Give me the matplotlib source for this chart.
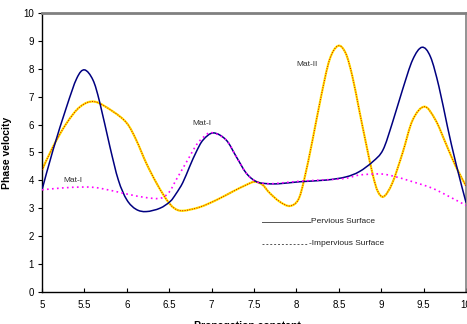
import matplotlib
matplotlib.use("Agg")
import matplotlib.pyplot as plt
from matplotlib.path import Path
from matplotlib.patches import PathPatch
import numpy as np

plt.rcParams['font.family'] = ['Liberation Sans', 'DejaVu Sans']

# pervious surface (navy, solid)
x_blue = [5.0, 5.13, 5.29, 5.41, 5.5, 5.6, 5.68, 5.8, 5.9, 6.0, 6.11, 6.23,
          6.39, 6.51, 6.58, 6.66, 6.74, 6.82, 6.9, 7.02, 7.17, 7.29, 7.41, 7.53,
          7.66, 7.8, 8.04, 8.35, 8.58, 8.74, 8.9, 9.02, 9.13, 9.25, 9.37, 9.48,
          9.58, 9.68, 9.78, 9.88, 10.0]
y_blue = [3.66, 5.09, 6.64, 7.66, 7.96, 7.6, 6.8, 5.21, 4.01, 3.3, 2.96, 2.88,
          3.0, 3.24, 3.52, 3.92, 4.49, 5.03, 5.45, 5.7, 5.45, 4.85, 4.25, 3.95,
          3.88, 3.88, 3.95, 4.01, 4.12, 4.31, 4.67, 5.09, 6.05, 7.24, 8.32, 8.77,
          8.43, 7.36, 5.93, 4.61, 3.2]

# impervious surface (magenta, dotted)
x_mag = [5.0, 5.25, 5.5, 5.68, 6.0, 6.23, 6.4, 6.5, 6.58, 6.66, 6.74, 6.82,
         6.9, 7.0, 7.17, 7.29, 7.41, 7.53, 7.66, 7.8, 8.04, 8.35, 8.58, 8.74,
         8.98, 9.13, 9.37, 9.6, 9.8, 10.0]
y_mag = [3.66, 3.73, 3.76, 3.72, 3.51, 3.38, 3.36, 3.58, 4.01, 4.43, 4.85, 5.27,
         5.54, 5.71, 5.45, 4.85, 4.25, 3.95, 3.88, 3.9, 3.97, 4.02, 4.07, 4.19,
         4.23, 4.16, 3.95, 3.72, 3.42, 3.1]

# Mat-II (yellow with red dots)
x_yel = [5.0, 5.13, 5.29, 5.45, 5.62, 5.84, 6.0, 6.11, 6.23, 6.35, 6.47, 6.56,
         6.66, 6.86, 7.06, 7.25, 7.41, 7.51, 7.6, 7.68, 7.8, 7.92, 8.02, 8.09,
         8.19, 8.29, 8.39, 8.49, 8.58, 8.66, 8.74, 8.82, 8.9, 8.96, 9.03, 9.13,
         9.25, 9.37, 9.51, 9.64, 9.76, 9.88, 10.0]
y_yel = [4.37, 5.21, 6.05, 6.64, 6.82, 6.46, 6.05, 5.45, 4.61, 3.9, 3.3, 3.0,
         2.91, 3.04, 3.3, 3.6, 3.84, 3.95, 3.84, 3.56, 3.24, 3.08, 3.3, 4.01,
         5.45, 7.0, 8.32, 8.82, 8.56, 7.72, 6.52, 5.33, 4.2, 3.6, 3.42, 3.9,
         4.97, 6.16, 6.64, 6.16, 5.33, 4.49, 3.8]

labels = [("Mat-I", 5.36, 4.0), ("Mat-I", 6.89, 6.02), ("Mat-II", 8.12, 8.17)]
xticks = [5, 5.5, 6, 6.5, 7, 7.5, 8, 8.5, 9, 9.5, 10]
xticklabels = ["5", "5.5", "6", "6.5", "7", "7.5", "8", "8.5", "9", "9.5", "10"]


def smooth_path(xs, ys):
    # Excel-style smoothed line: bezier segments through the points
    p = np.column_stack([xs, ys])
    n = len(p)
    verts = [p[0]]
    codes = [Path.MOVETO]
    for i in range(n - 1):
        p0 = p[i - 1] if i > 0 else p[i]
        p1 = p[i]
        p2 = p[i + 1]
        p3 = p[i + 2] if i + 2 < n else p[i + 1]
        verts += [p1 + (p2 - p0) / 6, p2 - (p3 - p1) / 6, p2]
        codes += [Path.CURVE4] * 3
    return Path(verts, codes)


def draw(ax, xs, ys, **kw):
    ax.add_patch(PathPatch(smooth_path(xs, ys), fill=False, capstyle='butt', **kw))


fig = plt.figure(figsize=(4.67, 3.24), dpi=100)
ax = fig.add_axes([0.09, 0.099, 0.908, 0.861])

draw(ax, x_yel, y_yel, edgecolor='#FFE800', lw=1.6, zorder=2)
draw(ax, x_yel, y_yel, edgecolor='#E00000', lw=0.7, ls=(0, (1, 1.5)), zorder=3)
draw(ax, x_blue, y_blue, edgecolor='#000080', lw=1.1, zorder=4)
draw(ax, x_mag, y_mag, edgecolor='#FF00FF', lw=1.2, ls=(0, (1, 2)), zorder=5)

for txt, lx, ly in labels:
    ax.text(lx, ly, txt, fontsize=6, color='#333333', ha='center', va='center')

# hand-made legend
ax.plot([0.519, 0.632], [0.251, 0.251], transform=ax.transAxes, color='#555555', lw=0.7)
ax.text(0.634, 0.251, "Pervious Surface", transform=ax.transAxes, fontsize=6,
        color='#222222', va='center')
ax.plot([0.519, 0.628], [0.172, 0.172], transform=ax.transAxes, color='#555555',
        lw=0.7, ls=(0, (2, 2)))
ax.text(0.629, 0.172, "-Impervious Surface", transform=ax.transAxes, fontsize=6,
        color='#222222', va='center')

ax.set_xlim(5, 10)
ax.set_ylim(0, 10)
ax.set_xticks(xticks)
ax.set_xticklabels(xticklabels)
ax.set_yticks(range(0, 11))
ax.tick_params(axis='x', direction='in', length=3, labelsize=7, pad=6)
ax.tick_params(axis='y', direction='out', length=3, labelsize=7, pad=3)

ax.spines['top'].set_color('#808080')
ax.spines['top'].set_linewidth(2)
ax.spines['right'].set_color('#808080')
ax.spines['right'].set_linewidth(1.2)
ax.spines['left'].set_linewidth(1)
ax.spines['bottom'].set_linewidth(1)

ax.set_ylabel("Phase velocity", fontsize=7.5, fontweight='bold', labelpad=8)
fig.text(0.53, -0.005, "Propagation constant", fontsize=7.5, fontweight='bold',
         ha='center', va='center')

fig.savefig("out.png", dpi=100)
